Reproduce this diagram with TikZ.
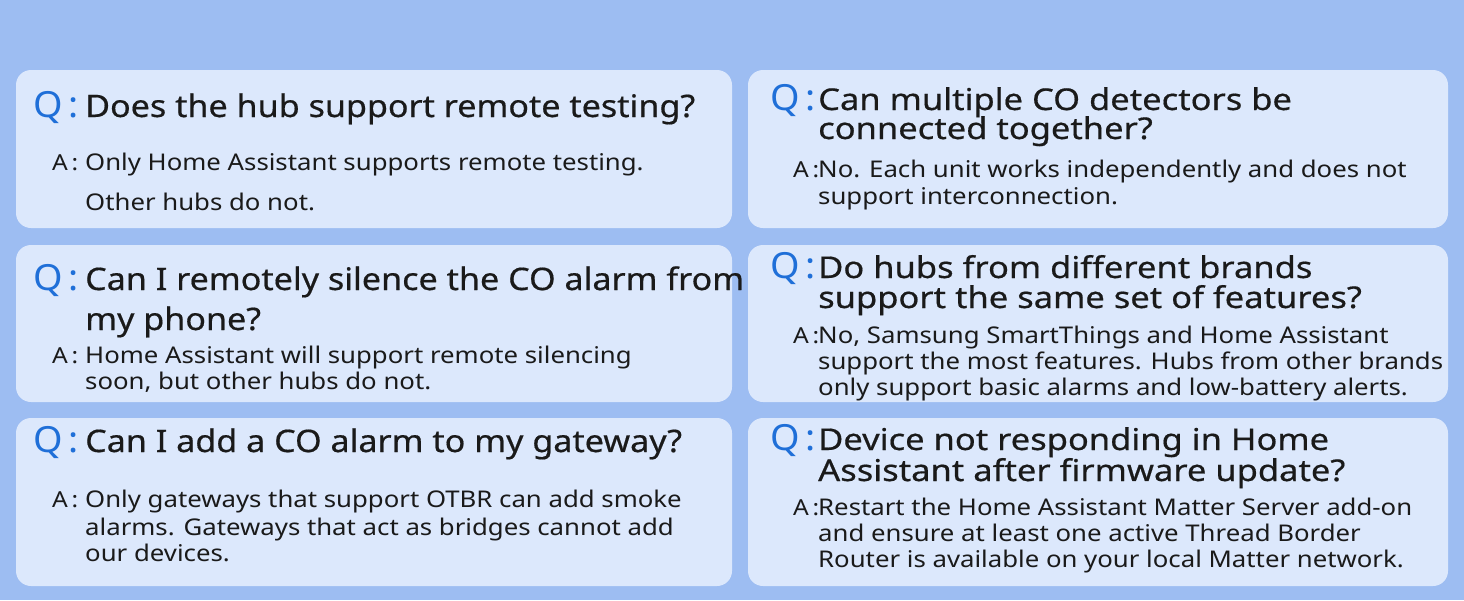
\documentclass[tikz,border=0pt]{standalone}
\usepackage{fontspec}
\setmainfont{Noto Sans}
\newfontfamily\qlfont[FakeStretch=1.1,FakeBold=0.5]{Noto Sans}
\newfontfamily\qrfont[FakeStretch=1.15,FakeBold=0.5]{Noto Sans}
\newfontfamily\afont[FakeStretch=1.12]{Noto Sans}
\newfontfamily\qmfont[FakeStretch=1.05]{Noto Sans}
\definecolor{bg}{HTML}{9DBDF2}
\definecolor{card}{HTML}{DCE8FC}
\definecolor{qblue}{HTML}{1F6FD8}
\definecolor{txt}{HTML}{1A1A1A}
\begin{document}
\begin{tikzpicture}[x=1pt,y=-1pt,
  cardbox/.style={fill=card,rounded corners=15pt},
  qmark/.style={anchor=base west,inner sep=0,text=qblue,font=\qmfont\bfseries\fontsize{36}{36}\selectfont},
  qtext/.style={anchor=base west,inner sep=0,text=txt,font=\qlfont\fontsize{31}{31}\selectfont},
  qtextr/.style={anchor=base west,inner sep=0,text=txt,font=\qrfont\fontsize{30}{30}\selectfont},
  amark/.style={anchor=base west,inner sep=0,text=txt,font=\afont\fontsize{22}{22}\selectfont},
  atext/.style={anchor=base west,inner sep=0,text=txt,font=\afont\fontsize{23}{23}\selectfont}]
\fill[bg] (0,0) rectangle (1464,600);
\useasboundingbox (0,0) rectangle (1464,600);
\fill[cardbox] (16,70) rectangle (732,228);
\fill[cardbox] (16,245) rectangle (732,402);
\fill[cardbox] (16,418) rectangle (732,586);
\fill[cardbox] (748,70) rectangle (1448,228);
\fill[cardbox] (748,245) rectangle (1448,402);
\fill[cardbox] (748,418) rectangle (1448,586);
% left 1
\node[qmark] (q1) at (33,117) {Q\,:};
\node[qtext] (q1a) at (85,117) {Does the hub support remote testing?};
\node[amark] (a1) at (52,170) {A\,:};
\node[atext] (a1a) at (85,170) {Only Home Assistant supports remote testing.};
\node[atext] (a1b) at (85,210) {Other hubs do not.};
% left 2
\node[qmark] (q2) at (33,290) {Q\,:};
\node[qtext] (q2a) at (85,290) {Can I remotely silence the CO alarm from};
\node[qtext] (q2b) at (85,330) {my phone?};
\node[amark] (a2) at (52,363) {A\,:};
\node[atext] (a2a) at (85,363) {Home Assistant will support remote silencing};
\node[atext] (a2b) at (85,389) {soon, but other hubs do not.};
% left 3
\node[qmark] (q3) at (33,452) {Q\,:};
\node[qtext] (q3a) at (85,452) {Can I add a CO alarm to my gateway?};
\node[amark] (a3) at (52,507) {A\,:};
\node[atext] (a3a) at (85,507) {Only gateways that support OTBR can add smoke};
\node[atext] (a3b) at (85,535) {alarms. Gateways that act as bridges cannot add};
\node[atext] (a3c) at (85,561) {our devices.};
% right 1
\node[qmark] (q4) at (770,110) {Q\,:};
\node[qtextr] (q4a) at (818,110) {Can multiple CO detectors be};
\node[qtextr] (q4b) at (818,139) {connected together?};
\node[amark] (a4) at (793,177) {A\,:};
\node[atext] (a4a) at (818,177) {No. Each unit works independently and does not};
\node[atext] (a4b) at (818,204) {support interconnection.};
% right 2
\node[qmark] (q5) at (770,278) {Q\,:};
\node[qtextr] (q5a) at (818,278) {Do hubs from different brands};
\node[qtextr] (q5b) at (818,308) {support the same set of features?};
\node[amark] (a5) at (793,343) {A\,:};
\node[atext] (a5a) at (818,343) {No, Samsung SmartThings and Home Assistant};
\node[atext] (a5b) at (818,369) {support the most features. Hubs from other brands};
\node[atext] (a5c) at (818,395) {only support basic alarms and low-battery alerts.};
% right 3
\node[qmark] (q6) at (770,450) {Q\,:};
\node[qtextr] (q6a) at (818,450) {Device not responding in Home};
\node[qtextr] (q6b) at (818,481) {Assistant after firmware update?};
\node[amark] (a6) at (793,515) {A\,:};
\node[atext] (a6a) at (818,515) {Restart the Home Assistant Matter Server add-on};
\node[atext] (a6b) at (818,541) {and ensure at least one active Thread Border};
\node[atext] (a6c) at (818,567) {Router is available on your local Matter network.};
\end{tikzpicture}
\end{document}
